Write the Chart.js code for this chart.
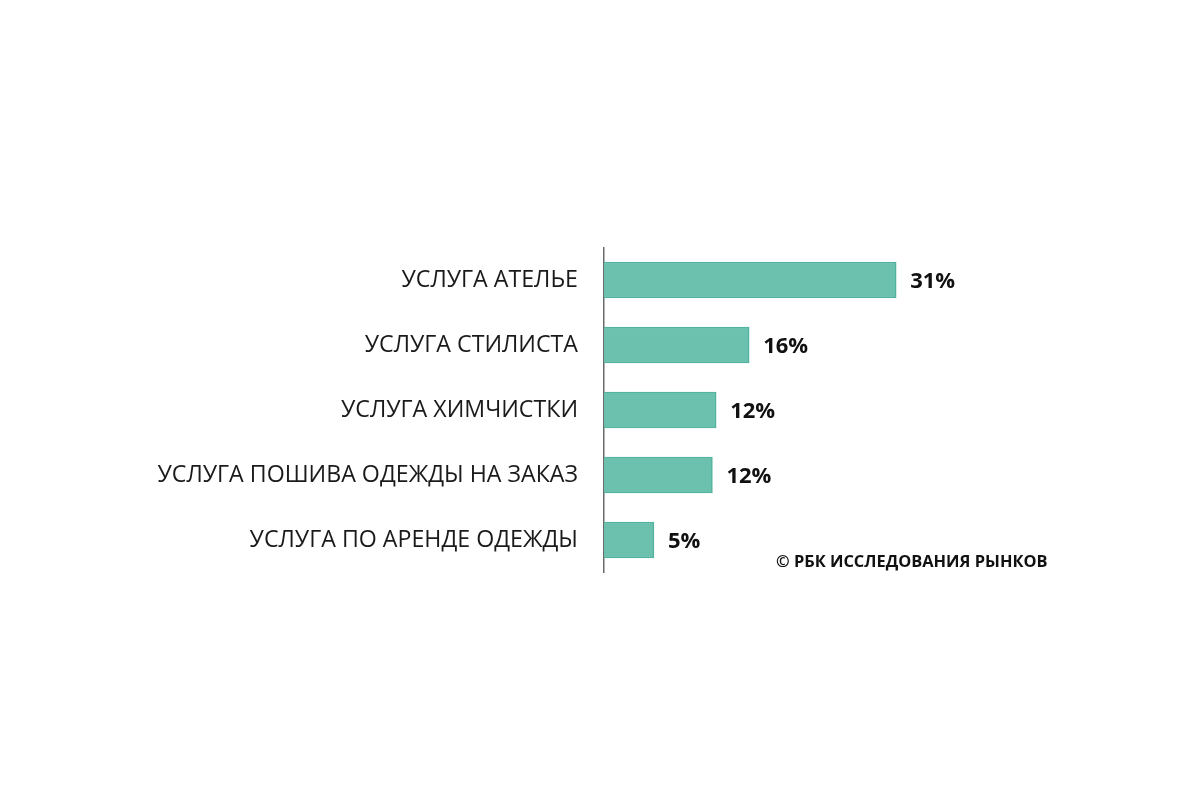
<!DOCTYPE html>
<html>
<head>
<meta charset="utf-8">
<script src="https://cdn.jsdelivr.net/npm/chart.js@4"></script>
<style>
  html, body { margin: 0; padding: 0; background: #fff; }
  #wrap { width: 1200px; height: 800px; }
</style>
</head>
<body>
<div id="wrap"><canvas id="lienzo"></canvas></div>
<script>
// data
const categorias = [
    "УСЛУГА АТЕЛЬЕ",
    "УСЛУГА СТИЛИСТА",
    "УСЛУГА ХИМЧИСТКИ",
    "УСЛУГА ПОШИВА ОДЕЖДЫ НА ЗАКАЗ",
    "УСЛУГА ПО АРЕНДЕ ОДЕЖДЫ"
]
const valores = [31, 15.4, 11.9, 11.5, 5.3]
const etiquetas = ["31%", "16%", "12%", "12%", "5%"]
const fuente = "© РБК ИССЛЕДОВАНИЯ РЫНКОВ"

const fontFamily = "'Open Sans', 'Noto Sans', sans-serif"

// value labels at bar ends + copyright line
const etiquetasPlugin = {
    id: "etiquetas",
    afterDatasetsDraw(chart) {
        const ctx = chart.ctx
        const meta = chart.getDatasetMeta(0)
        ctx.save()
        ctx.fillStyle = "#111"
        ctx.font = "bold 22px " + fontFamily
        ctx.textBaseline = "middle"
        ctx.textAlign = "left"
        meta.data.forEach((bar, i) => {
            ctx.fillText(etiquetas[i], bar.x + 14, bar.y + 2)
        })
        ctx.font = "bold 16.4px " + fontFamily
        ctx.fillText(fuente, 776, 562)
        ctx.restore()
    }
}

new Chart(document.getElementById("lienzo"), {
    type: "bar",
    data: {
        labels: categorias,
        datasets: [{
            data: valores,
            backgroundColor: "#6bc0ae",
            borderColor: "#52b39f",
            borderWidth: 1.5,
            barThickness: 36
        }]
    },
    plugins: [etiquetasPlugin],
    options: {
        indexAxis: "y",
        responsive: true,
        maintainAspectRatio: false,
        animation: false,
        layout: {
            padding: { left: 0, right: 219, top: 247.5, bottom: 227.5 }
        },
        plugins: {
            legend: { display: false },
            tooltip: { enabled: false },
            title: { display: false }
        },
        scales: {
            x: {
                display: false,
                min: 0,
                max: 40
            },
            y: {
                afterFit: (scale) => { scale.width = 604 },
                grid: { display: true, drawOnChartArea: false, drawTicks: false },
                border: { display: true, color: "#6b6b6b", width: 1.5 },
                ticks: {
                    color: "#1a1a1a",
                    padding: 26,
                    font: { family: fontFamily, size: 23.2 }
                }
            }
        }
    }
})
</script>
</body>
</html>
